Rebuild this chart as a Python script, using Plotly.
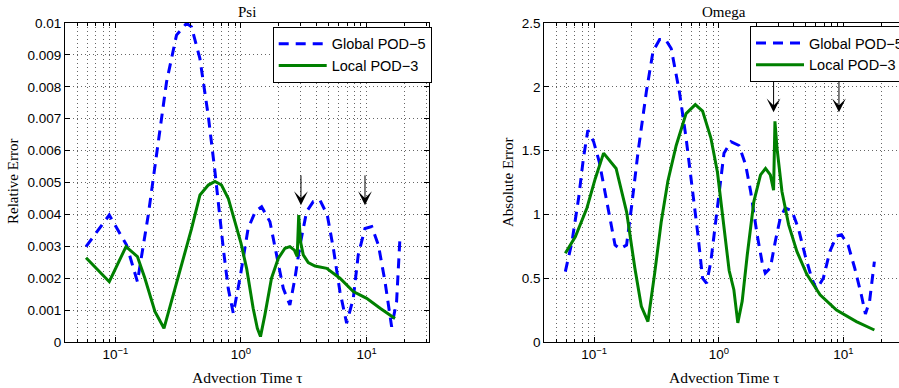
import math
import plotly.graph_objects as go

# ---------------- data ----------------
psi_global_t = [0.0585, 0.0896, 0.123, 0.150, 0.183, 0.213, 0.256, 0.307, 0.369, 0.404,
                0.471, 0.549, 0.621, 0.723, 0.792, 0.869, 0.982, 1.14, 1.30, 1.46,
                1.70, 1.92, 2.17, 2.45, 2.69, 2.95, 3.33, 3.76, 4.25, 4.86,
                5.43, 6.13, 6.93, 7.83, 8.57, 9.70, 10.97, 12.4, 14.0, 15.8,
                17.3, 18.4]
psi_global_err = [0.00299, 0.00398, 0.00304, 0.00189, 0.00398, 0.00586, 0.00816, 0.00962, 0.00999, 0.00988,
                  0.00889, 0.00710, 0.00534, 0.00294, 0.00168, 0.00090, 0.00200, 0.00356, 0.00409, 0.00424,
                  0.00377, 0.00273, 0.00168, 0.00116, 0.00200, 0.00304, 0.00409, 0.00440, 0.00445, 0.00398,
                  0.00294, 0.00158, 0.00059, 0.00137, 0.00273, 0.00356, 0.00362, 0.00304, 0.00189, 0.00048,
                  0.00126, 0.00325]

psi_local_t = [0.0585, 0.0896, 0.1217, 0.150, 0.172, 0.207, 0.244, 0.289, 0.347, 0.405,
               0.472, 0.55, 0.621, 0.70, 0.793, 0.895, 1.0, 1.11, 1.25, 1.35,
               1.43, 1.55, 1.75, 1.98, 2.24, 2.45, 2.66, 2.80, 2.88, 2.98,
               3.13, 3.43, 3.88, 4.81, 6.13, 7.83, 10.0, 12.8, 16.8]
psi_local_err = [0.00264, 0.00189, 0.00299, 0.00268, 0.00200, 0.00095, 0.00043, 0.00147, 0.00262, 0.00356,
                 0.00461, 0.00492, 0.00503, 0.00492, 0.00450, 0.00377, 0.00310, 0.00230, 0.00106, 0.00043,
                 0.00017, 0.00085, 0.00200, 0.00262, 0.00294, 0.00299, 0.00288, 0.00268, 0.00398, 0.00314,
                 0.00273, 0.00249, 0.00238, 0.00231, 0.00200, 0.00158, 0.00137, 0.00106, 0.00074]

omega_global_t = [0.0587, 0.0664, 0.075, 0.082, 0.089, 0.099, 0.110, 0.122, 0.134, 0.147,
                  0.161, 0.182, 0.20, 0.225, 0.263, 0.297, 0.335, 0.374, 0.415, 0.483,
                  0.546, 0.617, 0.676, 0.741, 0.798, 0.863, 0.946, 1.04, 1.10, 1.25,
                  1.45, 1.64, 1.80, 2.03, 2.22, 2.36, 2.59, 2.84, 3.11, 3.41,
                  3.85, 4.35, 4.92, 5.56, 6.09, 6.89, 7.78, 8.79, 9.64, 10.9,
                  12.3, 13.9, 15.0, 16.2, 17.7]
omega_global_err = [0.551, 0.786, 1.126, 1.44, 1.66, 1.57, 1.41, 1.18, 0.97, 0.76,
                    0.73, 0.76, 1.07, 1.49, 1.97, 2.28, 2.37, 2.37, 2.30, 1.96,
                    1.60, 1.18, 0.86, 0.50, 0.46, 0.63, 0.94, 1.25, 1.48, 1.57,
                    1.54, 1.39, 1.18, 0.84, 0.63, 0.54, 0.58, 0.79, 0.97, 1.05,
                    1.03, 0.89, 0.68, 0.50, 0.41, 0.50, 0.71, 0.83, 0.84, 0.76,
                    0.58, 0.37, 0.22, 0.32, 0.63]

omega_local_t = [0.0587, 0.0706, 0.0875, 0.102, 0.119, 0.150, 0.182, 0.212, 0.239, 0.270,
                 0.305, 0.345, 0.390, 0.455, 0.546, 0.648, 0.741, 0.863, 0.975, 1.04,
                 1.14, 1.21, 1.32, 1.42, 1.54, 1.69, 1.91, 2.16, 2.37, 2.59,
                 2.75, 2.82, 2.93, 3.21, 3.63, 4.23, 5.08, 6.49, 8.79, 12.7,
                 17.7]
omega_local_err = [0.695, 0.825, 1.05, 1.28, 1.48, 1.36, 1.02, 0.58, 0.28, 0.16,
                   0.53, 0.94, 1.26, 1.54, 1.79, 1.86, 1.81, 1.60, 1.33, 1.10,
                   0.78, 0.56, 0.41, 0.15, 0.32, 0.68, 1.10, 1.31, 1.36, 1.31,
                   1.19, 1.73, 1.52, 1.18, 0.92, 0.71, 0.53, 0.37, 0.25, 0.16,
                   0.094]

x_tick_vals = [0.1, 1, 10]
x_tick_text = ["10<sup>−1</sup>", "10<sup>0</sup>", "10<sup>1</sup>"]

psi_arrow_t = [3.0, 9.7]
psi_arrow_top, psi_arrow_tip = 0.00527, 0.00429
omega_arrow_t = [2.75, 9.2]
omega_arrow_top, omega_arrow_tip = 2.05, 1.80

series_names = ["Global POD−5", "Local POD−3"]
titles = ["Psi", "Omega"]
y_titles = ["Relative Error", "Absolute Error"]
x_title = "Advection Time τ"

# ---------------- layout constants ----------------
W, H = 920, 388
SANS = "Liberation Sans, Arial, Helvetica, sans-serif"
SERIF = "Liberation Serif, Times New Roman, serif"
GRID = "#666666"
GDASH = "1px,3px"

x_range = [-1.40, 1.496]
minor_vals = [k * 10 ** e for e in (-2, -1, 0, 1) for k in range(2, 10)
              if x_range[0] <= math.log10(k * 10 ** e) <= x_range[1]]

ydom = [(H - 342) / H, (H - 23) / H]
left_dom = [65 / W, 429 / W]
right_dom = [544.3 / W, 905.3 / W]


def xaxis_cfg(domain, anchor):
    return dict(type="log", domain=domain, anchor=anchor, range=x_range,
                tickmode="array", tickvals=x_tick_vals, ticktext=x_tick_text,
                ticks="inside", ticklen=5, tickcolor="black", tickwidth=1,
                tickfont=dict(family=SANS, size=13.5, color="black"),
                showline=True, linecolor="black", linewidth=1, mirror="ticks",
                showgrid=True, gridcolor=GRID, griddash=GDASH, gridwidth=1,
                zeroline=False,
                minor=dict(tickmode="array", tickvals=minor_vals, ticks="inside",
                           ticklen=3, tickcolor="black", showgrid=True,
                           gridcolor=GRID, griddash=GDASH, gridwidth=1))


def yaxis_cfg(anchor, rng, dtick):
    return dict(domain=ydom, anchor=anchor, range=rng, dtick=dtick, tick0=0,
                ticks="inside", ticklen=5, tickcolor="black",
                tickfont=dict(family=SANS, size=13.5, color="black"),
                showline=True, linecolor="black", linewidth=1, mirror="ticks",
                showgrid=True, gridcolor=GRID, griddash=GDASH, gridwidth=1,
                zeroline=False)


fig = go.Figure()
blue = dict(color="#0000ff", width=3, dash="10px,7px")
green = dict(color="#008000", width=3)

fig.add_trace(go.Scatter(x=psi_global_t, y=psi_global_err, mode="lines", line=blue,
                         name=series_names[0], xaxis="x", yaxis="y", legend="legend"))
fig.add_trace(go.Scatter(x=psi_local_t, y=psi_local_err, mode="lines", line=green,
                         name=series_names[1], xaxis="x", yaxis="y", legend="legend"))
fig.add_trace(go.Scatter(x=omega_global_t, y=omega_global_err, mode="lines", line=blue,
                         name=series_names[0], xaxis="x2", yaxis="y2", legend="legend2"))
fig.add_trace(go.Scatter(x=omega_local_t, y=omega_local_err, mode="lines", line=green,
                         name=series_names[1], xaxis="x2", yaxis="y2", legend="legend2"))

legend_common = dict(xanchor="left", yanchor="top", bordercolor="black", borderwidth=1,
                     bgcolor="white", font=dict(family=SANS, size=14.5, color="black"),
                     tracegroupgap=0, itemwidth=48)

annotations = []
# titles and axis labels
for cx, t in zip([247, 724], titles):
    annotations.append(dict(text=t, x=cx / W, y=1 - 12.5 / H, xref="paper", yref="paper",
                            xanchor="center", yanchor="middle", showarrow=False,
                            font=dict(family=SERIF, size=15, color="black")))
    annotations.append(dict(text=x_title, x=cx / W, y=1 - 377 / H, xref="paper", yref="paper",
                            xanchor="center", yanchor="middle", showarrow=False,
                            font=dict(family=SERIF, size=15.5, color="black")))
for cx, t in zip([13, 508], y_titles):
    annotations.append(dict(text=t, x=cx / W, y=1 - 182 / H, xref="paper", yref="paper",
                            xanchor="center", yanchor="middle", showarrow=False, textangle=-90,
                            font=dict(family=SERIF, size=15, color="black")))
# arrows
for t in psi_arrow_t:
    annotations.append(dict(x=math.log10(t), y=psi_arrow_tip, xref="x", yref="y",
                            ax=0, ay=psi_arrow_top, axref="pixel", ayref="y",
                            showarrow=True, arrowhead=3, arrowsize=2.3, arrowwidth=1,
                            arrowcolor="black", text=""))
for t in omega_arrow_t:
    annotations.append(dict(x=math.log10(t), y=omega_arrow_tip, xref="x2", yref="y2",
                            ax=0, ay=omega_arrow_top, axref="pixel", ayref="y2",
                            showarrow=True, arrowhead=3, arrowsize=2.3, arrowwidth=1,
                            arrowcolor="black", text=""))

fig.update_layout(
    width=W, height=H,
    margin=dict(l=0, r=0, t=0, b=0, autoexpand=False),
    paper_bgcolor="white", plot_bgcolor="white",
    xaxis=xaxis_cfg(left_dom, "y"),
    yaxis=yaxis_cfg("x", [0, 0.01], 0.001),
    xaxis2=xaxis_cfg(right_dom, "y2"),
    yaxis2=yaxis_cfg("x2", [0, 2.5], 0.5),
    legend=dict(x=272.7 / W, y=1 - 26.7 / H, **legend_common),
    legend2=dict(x=750 / W, y=1 - 26 / H, **legend_common),
    annotations=annotations,
)

fig.write_html(
    "out.html",
    config={"displayModeBar": False},
    post_script="document.body.style.margin='0';document.body.style.overflow='hidden';"
                "document.documentElement.style.overflow='hidden';",
)
